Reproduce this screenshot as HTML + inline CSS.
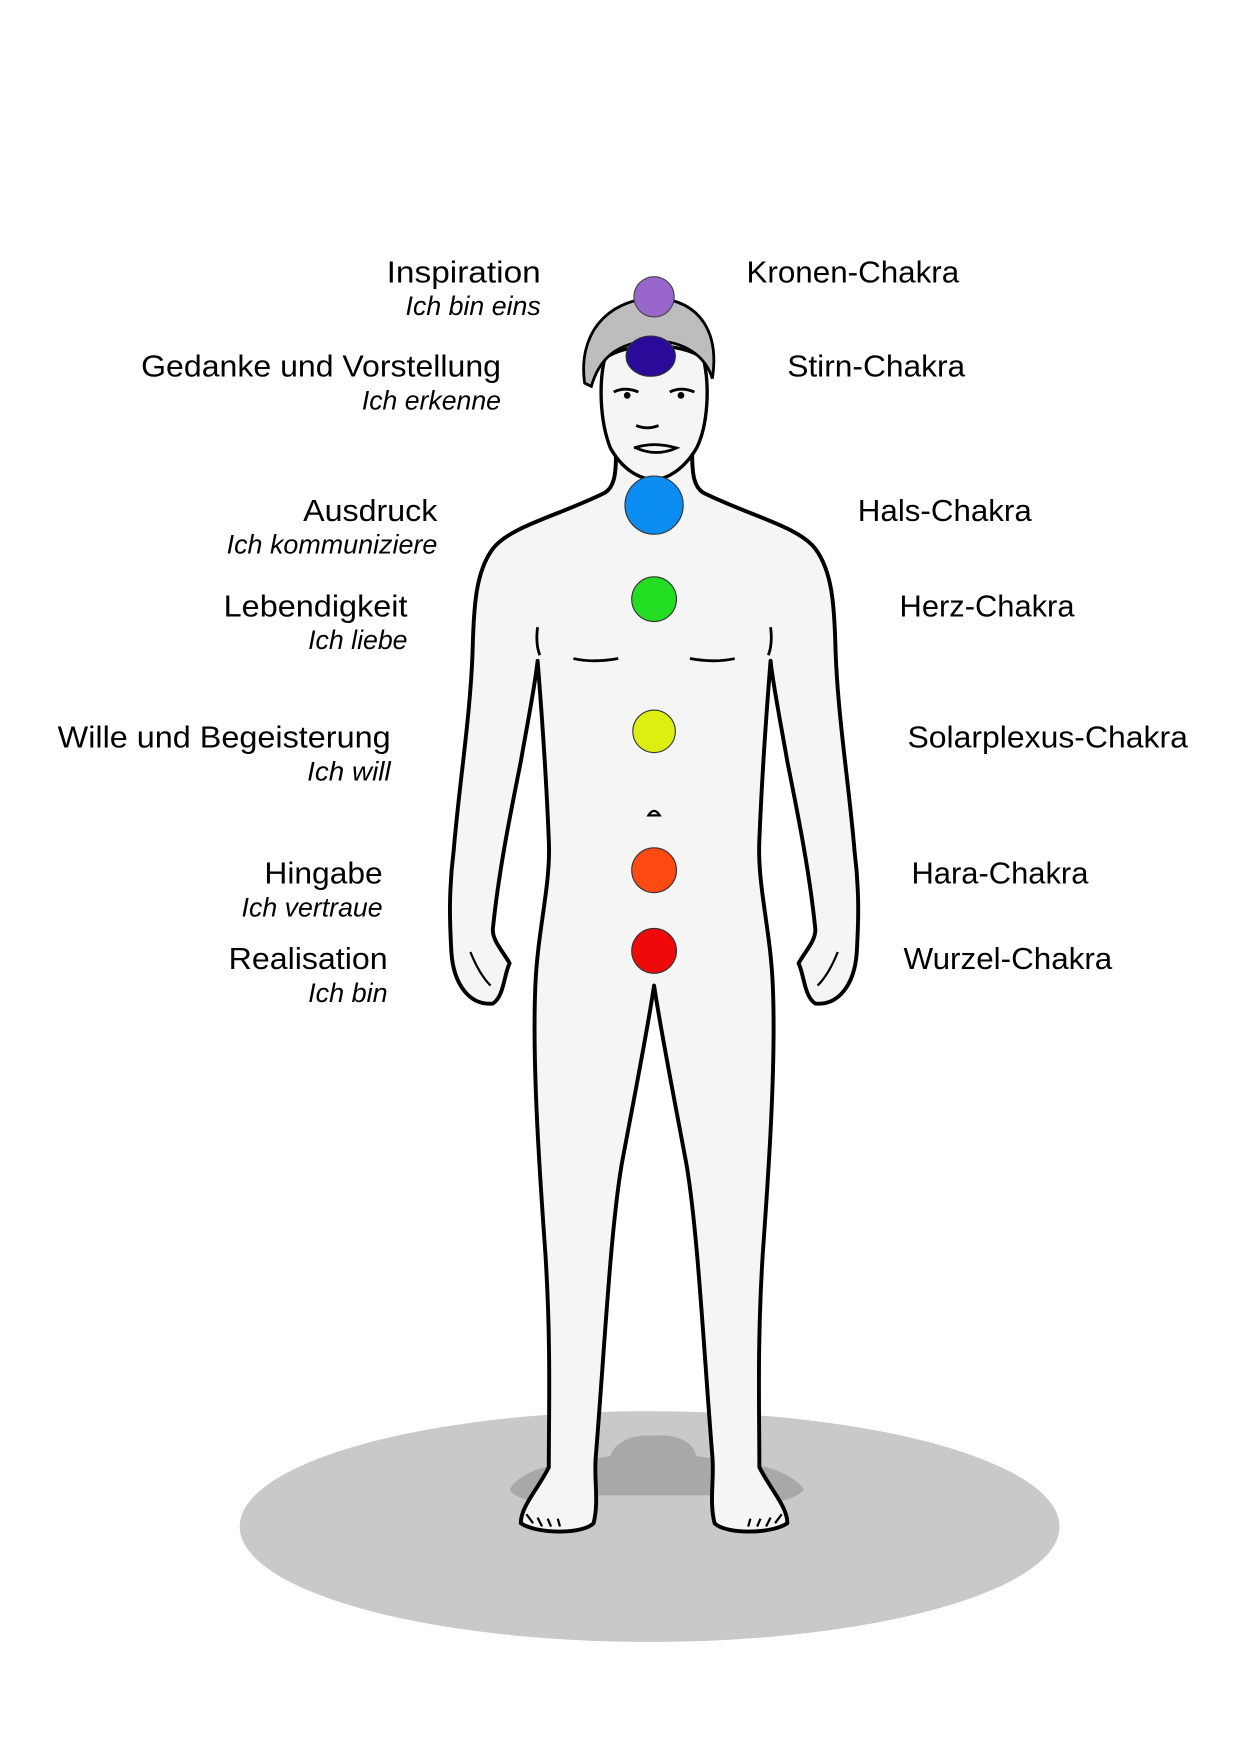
<!DOCTYPE html>
<html><head><meta charset="utf-8"><style>
html,body{margin:0;padding:0;background:#fff;}
svg{display:block;}
text{font-family:"Liberation Sans",sans-serif;fill:#000;}
.m{font-size:31px;}
.i{font-size:27px;font-style:italic;}
</style></head><body>
<svg width="1240" height="1754" viewBox="0 0 1240 1754" xmlns="http://www.w3.org/2000/svg">
<rect width="1240" height="1754" fill="#fff"/>
<g transform="scale(1.12)">
<ellipse cx="580" cy="1363" rx="366" ry="103" fill="#c9c9c9"/>
<path d="M455 1330 C470 1305 520 1305 545 1300 C550 1285 570 1280 584 1282 C600 1280 618 1285 622 1300 C650 1305 700 1305 718 1330 C705 1345 660 1345 640 1335 L530 1335 C510 1345 465 1345 455 1330 Z" fill="#a8a8a8"/>
<path d="M550 405 C550 425 548 435 540 440 C500 460 455 470 440 490 C425 510 423 540 422 580 C420 640 410 700 405 760 C400 800 402 830 403 850 C405 880 420 898 440 896 C450 890 450 870 455 860 C448 848 440 840 440 830 C445 780 455 730 465 680 C472 640 478 610 480 590 C484 640 488 700 490 750 C492 790 480 830 478 880 C475 950 482 1050 487 1120 C492 1200 490 1260 490 1310 C480 1330 465 1345 465 1360 C480 1370 520 1370 530 1360 C535 1340 530 1320 532 1300 C540 1200 545 1100 555 1040 C570 960 578 920 584 880 C590 920 598 960 613 1040 C623 1100 628 1200 636 1300 C638 1320 633 1340 638 1360 C648 1370 688 1370 703 1360 C703 1345 688 1330 678 1310 C678 1260 676 1200 681 1120 C686 1050 693 950 690 880 C688 830 676 790 678 750 C680 700 684 640 688 590 C690 610 696 640 703 680 C713 730 723 780 728 830 C728 840 720 848 713 860 C718 870 718 890 728 896 C748 898 763 880 765 850 C766 830 768 800 763 760 C758 700 748 640 746 580 C745 540 743 510 728 490 C713 470 668 460 628 440 C620 435 618 425 618 405 Z" fill="#f5f5f5" stroke="#000" stroke-width="3.5" stroke-linejoin="round"/>
<path d="M512 588 Q530 592 552 588 M616 588 Q638 592 656 588 M480 560 Q478 575 482 585 M688 560 Q690 575 686 585" fill="none" stroke="#000" stroke-width="2.5"/>
<path d="M579 728 Q584 720 589 728 Z" fill="none" stroke="#000" stroke-width="2"/>
<path d="M470 1352 l6 8 M480 1355 l4 8 M489 1356 l3 7 M498 1356 l2 7 M698 1352 l-6 8 M688 1355 l-4 8 M679 1356 l-3 7 M670 1356 l-2 7 M420 850 q8 20 18 30 M748 850 q-8 20 -18 30" stroke="#000" stroke-width="2" fill="none"/>
<path d="M545 400 C535 375 535 340 540 320 C560 305 608 305 628 320 C634 345 632 380 622 400 C610 420 595 428 584 428 C570 428 555 418 545 400 Z" fill="#f5f5f5" stroke="#000" stroke-width="3"/>
<path d="M522 342 C516 300 540 268 584 266 C628 268 642 300 636 338 C630 318 612 305 584 304 C556 305 536 316 528 345 Z" fill="#bdbdbd" stroke="#000" stroke-width="2.5"/>
<path d="M548 350 q10 -5 22 0 M598 350 q10 -5 22 0 M568 380 q10 4 20 0 M566 400 q18 -6 38 0 q-18 8 -36 0" fill="none" stroke="#000" stroke-width="2.5"/>
<circle cx="560" cy="353" r="3" fill="#000"/><circle cx="608" cy="353" r="3" fill="#000"/>
<circle cx="584" cy="265" r="18" fill="#9966cc" stroke="#444" stroke-width="1"/>
<ellipse cx="581" cy="318" rx="22" ry="18" fill="#2a0a99" stroke="#333" stroke-width="1"/>
<circle cx="584" cy="451" r="26" fill="#0a8cf0" stroke="#333" stroke-width="1"/>
<circle cx="584" cy="535" r="20" fill="#22dd22" stroke="#333" stroke-width="1"/>
<circle cx="584" cy="653" r="19" fill="#ddee11" stroke="#333" stroke-width="1"/>
<circle cx="584" cy="777" r="20" fill="#ff4a11" stroke="#333" stroke-width="1"/>
<circle cx="584" cy="849" r="20" fill="#ee0a0a" stroke="#333" stroke-width="1"/>
</g>
<g transform="scale(0.994)">
<g text-anchor="end">
<text class="m" x="544" y="284" textLength="155" lengthAdjust="spacingAndGlyphs">Inspiration</text>
<text class="i" x="544" y="317" textLength="136" lengthAdjust="spacingAndGlyphs">Ich bin eins</text>
<text class="m" x="504" y="379" textLength="362" lengthAdjust="spacingAndGlyphs">Gedanke und Vorstellung</text>
<text class="i" x="504" y="412" textLength="140" lengthAdjust="spacingAndGlyphs">Ich erkenne</text>
<text class="m" x="440" y="524" textLength="135" lengthAdjust="spacingAndGlyphs">Ausdruck</text>
<text class="i" x="440" y="557" textLength="212" lengthAdjust="spacingAndGlyphs">Ich kommuniziere</text>
<text class="m" x="410" y="620" textLength="185" lengthAdjust="spacingAndGlyphs">Lebendigkeit</text>
<text class="i" x="410" y="653" textLength="100" lengthAdjust="spacingAndGlyphs">Ich liebe</text>
<text class="m" x="393" y="752" textLength="335" lengthAdjust="spacingAndGlyphs">Wille und Begeisterung</text>
<text class="i" x="393" y="785" textLength="84" lengthAdjust="spacingAndGlyphs">Ich will</text>
<text class="m" x="385" y="889" textLength="119" lengthAdjust="spacingAndGlyphs">Hingabe</text>
<text class="i" x="385" y="922" textLength="142" lengthAdjust="spacingAndGlyphs">Ich vertraue</text>
<text class="m" x="390" y="975" textLength="160" lengthAdjust="spacingAndGlyphs">Realisation</text>
<text class="i" x="390" y="1008" textLength="80" lengthAdjust="spacingAndGlyphs">Ich bin</text>
</g>
<g>
<text class="m" x="751" y="284" textLength="214" lengthAdjust="spacingAndGlyphs">Kronen-Chakra</text>
<text class="m" x="792" y="379" textLength="179" lengthAdjust="spacingAndGlyphs">Stirn-Chakra</text>
<text class="m" x="863" y="524" textLength="175" lengthAdjust="spacingAndGlyphs">Hals-Chakra</text>
<text class="m" x="905" y="620" textLength="176" lengthAdjust="spacingAndGlyphs">Herz-Chakra</text>
<text class="m" x="913" y="752" textLength="282" lengthAdjust="spacingAndGlyphs">Solarplexus-Chakra</text>
<text class="m" x="917" y="889" textLength="178" lengthAdjust="spacingAndGlyphs">Hara-Chakra</text>
<text class="m" x="909" y="975" textLength="210" lengthAdjust="spacingAndGlyphs">Wurzel-Chakra</text>
</g>
</g>
</svg>
</body></html>
